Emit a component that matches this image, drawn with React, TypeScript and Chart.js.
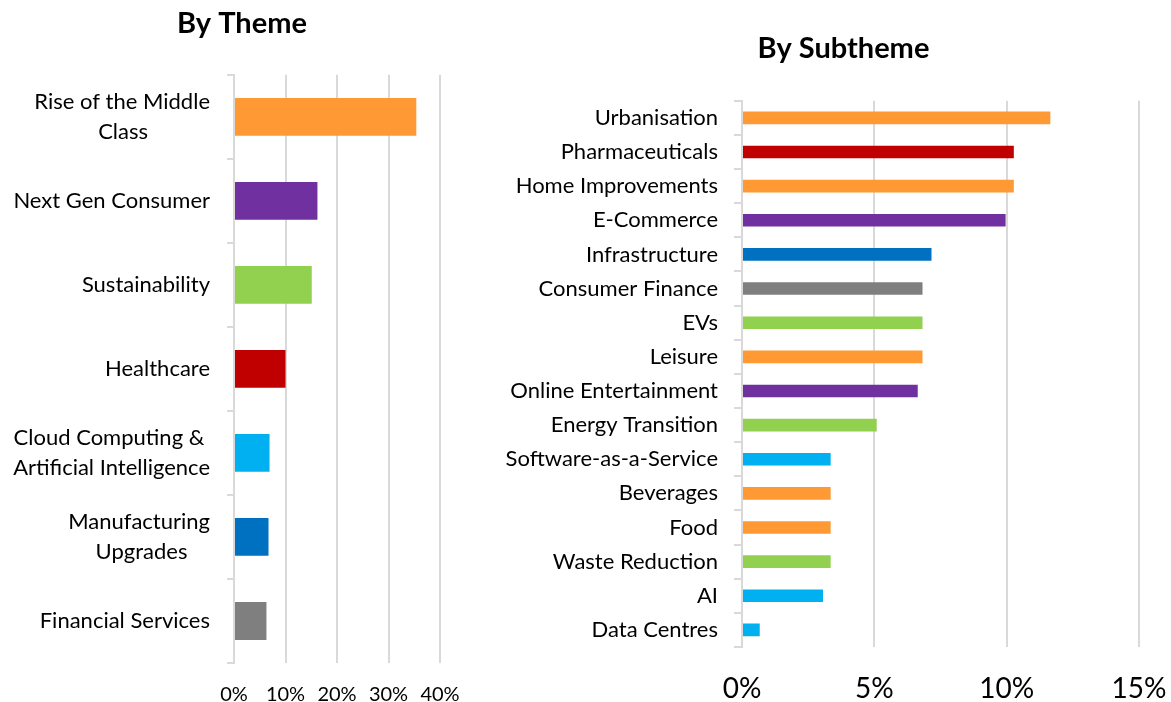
import React, { useEffect, useRef } from 'react';
import { Chart, registerables } from 'chart.js';

Chart.register(...registerables);

const FONT = 'Lato';

// ---- By Theme ----
const themeLabels: string[][] = [
  ['Rise of the Middle', 'Class'],
  ['Next Gen Consumer'],
  ['Sustainability'],
  ['Healthcare'],
  ['Cloud Computing &', 'Artificial Intelligence'],
  ['Manufacturing', 'Upgrades'],
  ['Financial Services'],
];
const themeValues = [35.4, 16.2, 15.1, 10.0, 6.9, 6.7, 6.3];
const themeColors = ['#FF9933', '#7030A0', '#92D050', '#C00000', '#00B0F0', '#0070C0', '#7F7F7F'];
const themeTickLabels = ['0%', '10%', '20%', '30%', '40%'];

// ---- By Subtheme ----
const subLabels = [
  'Urbanisation',
  'Pharmaceuticals',
  'Home Improvements',
  'E-Commerce',
  'Infrastructure',
  'Consumer Finance',
  'EVs',
  'Leisure',
  'Online Entertainment',
  'Energy Transition',
  'Software-as-a-Service',
  'Beverages',
  'Food',
  'Waste Reduction',
  'AI',
  'Data Centres',
];
const subValues = [11.65, 10.27, 10.27, 9.96, 7.16, 6.82, 6.82, 6.82, 6.64, 5.09, 3.35, 3.35, 3.35, 3.35, 3.06, 0.67];
const subColors = [
  '#FF9933', '#C00000', '#FF9933', '#7030A0', '#0070C0', '#7F7F7F', '#92D050', '#FF9933',
  '#7030A0', '#92D050', '#00B0F0', '#FF9933', '#FF9933', '#92D050', '#00B0F0', '#00B0F0',
];
const subTickLabels = ['0%', '5%', '10%', '15%'];

const GRID = '#d9d9d9';

// lets the category labels extend left of the y-axis box without being clipped
const unclipPlugin = {
  id: 'unclipY',
  afterLayout(chart: any) {
    if (chart.scales.y) chart.scales.y.left = 0;
  },
};

export default function App() {
  const leftRef = useRef<HTMLCanvasElement>(null);
  const rightRef = useRef<HTMLCanvasElement>(null);

  useEffect(() => {
    const measure = document.createElement('canvas').getContext('2d')!;
    const labelSize = 22;
    const labelFont = `${labelSize}px ${FONT}`;
    const centerLines = (lines: string[]) => {
      measure.font = labelFont;
      const widths = lines.map((l) => measure.measureText(l).width);
      const maxW = Math.max(...widths);
      const sp = measure.measureText(' ').width;
      return lines.map((l, i) => l + ' '.repeat(Math.max(0, Math.round((maxW - widths[i]) / 2 / sp))));
    };

    const left = new Chart(leftRef.current!, {
      type: 'bar',
      data: {
        labels: themeLabels as any,
        datasets: [
          {
            data: themeValues,
            backgroundColor: themeColors,
            categoryPercentage: 1,
            barPercentage: 0.45,
          },
        ],
      },
      plugins: [unclipPlugin],
      options: {
        indexAxis: 'y',
        responsive: false,
        animation: false,
        layout: { padding: { left: 44, right: 44, top: 0, bottom: 0 } },
        plugins: {
          legend: { display: false },
          tooltip: { enabled: false },
          title: {
            display: true,
            text: 'By Theme',
            color: '#000',
            font: { family: FONT, size: 29, weight: 'bold' },
            padding: { top: 6, bottom: 34 },
          },
        },
        scales: {
          x: {
            min: 0,
            max: 40,
            ticks: {
              stepSize: 10,
              autoSkip: false,
              maxRotation: 0,
              color: '#000',
              font: { family: FONT, size: 20 },
              padding: 20,
              callback: (_v: any, i: number) => themeTickLabels[i],
            },
            grid: { color: GRID, lineWidth: 2, drawTicks: false },
            border: { display: false },
            afterFit: (s: any) => {
              s.height = 39;
              s.paddingLeft = 0;
              s.paddingRight = 0;
            },
          },
          y: {
            ticks: {
              autoSkip: false,
              color: '#000',
              font: { family: FONT, size: labelSize, lineHeight: 1.33 },
              padding: 17,
              callback: (_v: any, i: number) => centerLines(themeLabels[i]),
            },
            grid: { offset: true, drawOnChartArea: false, tickLength: 7, color: GRID, lineWidth: 2 },
            border: { color: GRID, width: 2 },
            afterFit: (s: any) => {
              s.width = 190;
              s.paddingTop = 0;
              s.paddingBottom = 0;
            },
          },
        },
      } as any,
    });

    const right = new Chart(rightRef.current!, {
      type: 'bar',
      data: {
        labels: subLabels,
        datasets: [
          {
            data: subValues,
            backgroundColor: subColors,
            categoryPercentage: 1,
            barPercentage: 0.37,
          },
        ],
      },
      plugins: [unclipPlugin],
      options: {
        indexAxis: 'y',
        responsive: false,
        animation: false,
        layout: { padding: { left: 64, right: 32, top: 0, bottom: 0 } },
        plugins: {
          legend: { display: false },
          tooltip: { enabled: false },
          title: {
            display: true,
            text: 'By Subtheme',
            color: '#000',
            font: { family: FONT, size: 29, weight: 'bold' },
            padding: { top: 31, bottom: 35 },
          },
        },
        scales: {
          x: {
            min: 0,
            max: 15,
            ticks: {
              stepSize: 5,
              autoSkip: false,
              maxRotation: 0,
              color: '#000',
              font: { family: FONT, size: 28 },
              padding: 25,
              callback: (_v: any, i: number) => subTickLabels[i],
            },
            grid: { color: GRID, lineWidth: 2, drawTicks: false },
            border: { display: false },
            afterFit: (s: any) => {
              s.height = 55;
              s.paddingLeft = 0;
              s.paddingRight = 0;
            },
          },
          y: {
            ticks: {
              autoSkip: false,
              color: '#000',
              font: { family: FONT, size: 22 },
              padding: 16,
            },
            grid: { offset: true, drawOnChartArea: false, tickLength: 8, color: GRID, lineWidth: 2 },
            border: { color: GRID, width: 2 },
            afterFit: (s: any) => {
              s.width = 194;
              s.paddingTop = 0;
              s.paddingBottom = 0;
            },
          },
        },
      } as any,
    });

    return () => {
      left.destroy();
      right.destroy();
    };
  }, []);

  return (
    <div style={{ position: 'absolute', left: 0, top: 0, width: 1171, height: 702, background: '#fff' }}>
      <canvas
        ref={leftRef}
        width={484}
        height={702}
        style={{ position: 'absolute', left: 0, top: 0, width: 484, height: 702 }}
      />
      <canvas
        ref={rightRef}
        width={687}
        height={702}
        style={{ position: 'absolute', left: 484, top: 0, width: 687, height: 702 }}
      />
    </div>
  );
}
